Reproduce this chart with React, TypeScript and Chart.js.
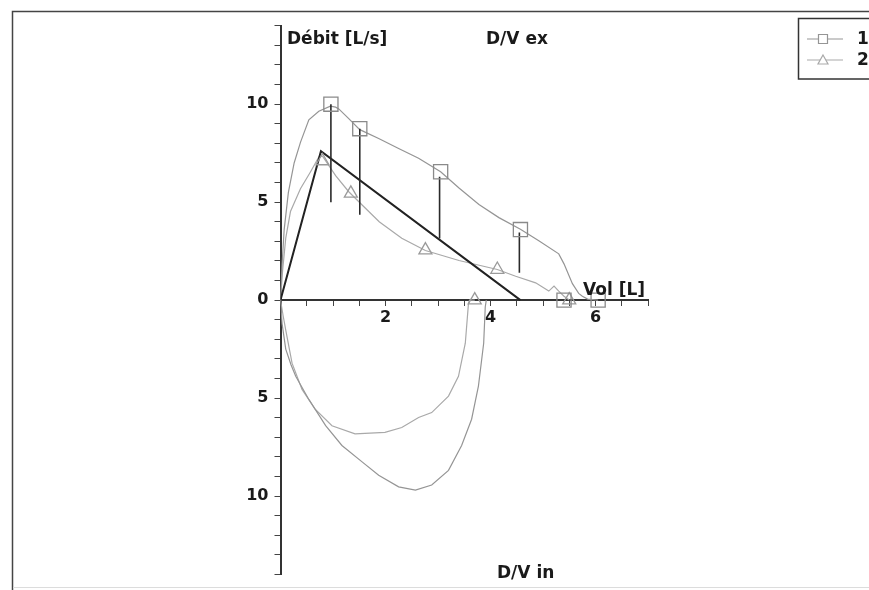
import React, { useEffect, useRef } from 'react';
import { Chart, registerables } from 'chart.js';

Chart.register(...registerables);

// ---- Data (volume in L, flow in L/s; inspiration as negative flow) ----
const exp1Vol = [0, 0.03, 0.07, 0.15, 0.26, 0.38, 0.54, 0.73, 0.95, 1.05, 1.11, 1.3, 1.51, 1.87, 2.25, 2.63, 3.05, 3.4, 3.78, 4.16, 4.57, 4.92, 5.3, 5.4, 5.56, 5.68, 5.75, 5.85, 6.05];
const exp1Flow = [0, 1.8, 3.6, 5.5, 7.0, 8.05, 9.2, 9.64, 9.9, 9.85, 9.76, 9.26, 8.7, 8.25, 7.74, 7.24, 6.55, 5.72, 4.88, 4.21, 3.62, 3.03, 2.36, 1.85, 0.84, 0.34, 0.2, 0.05, 0];

const exp2Vol = [0, 0.04, 0.1, 0.19, 0.38, 0.57, 0.73, 0.8, 1.05, 1.3, 1.56, 1.88, 2.31, 2.76, 3.4, 4.13, 4.48, 4.86, 5.11, 5.21, 5.3, 5.4, 5.5];
const exp2Flow = [0, 1.5, 3.16, 4.52, 5.68, 6.54, 7.3, 7.35, 6.35, 5.53, 4.84, 4.0, 3.16, 2.53, 2.02, 1.56, 1.22, 0.88, 0.46, 0.72, 0.46, 0.2, 0];

const insp1Vol = [0, 0.03, 0.1, 0.2, 0.29, 0.54, 0.86, 1.17, 1.56, 1.87, 2.25, 2.57, 2.88, 3.2, 3.45, 3.64, 3.77, 3.87, 3.9, 3.92];
const insp1Flow = [0, -1.2, -2.5, -3.3, -3.89, -5.07, -6.41, -7.42, -8.27, -8.94, -9.53, -9.7, -9.44, -8.69, -7.42, -6.08, -4.39, -2.2, -0.35, 0];

const insp2Vol = [0, 0.05, 0.1, 0.22, 0.41, 0.66, 0.98, 1.42, 1.99, 2.31, 2.63, 2.88, 3.2, 3.39, 3.52, 3.58, 3.6, 3.7];
const insp2Flow = [0, -0.8, -1.53, -3.22, -4.56, -5.57, -6.41, -6.83, -6.75, -6.5, -5.99, -5.74, -4.9, -3.89, -2.2, -0.18, 0, 0];

const refLineVol = [0, 0.77, 4.57];
const refLineFlow = [0, 7.6, 0];

const squareVol = [0.96, 1.51, 3.05, 4.57, 5.4, 6.05];
const squareFlow = [10, 8.75, 6.55, 3.6, 0, 0];

const triangleVol = [0.8, 1.34, 2.76, 4.13, 3.7, 5.5];
const triangleFlow = [7.1, 5.45, 2.55, 1.56, 0, 0];

const barVol = [0.96, 1.51, 3.03, 4.55];
const barTop = [10, 8.75, 6.3, 3.45];
const barBottom = [5.0, 4.35, 3.15, 1.4];

const xLabelValues = [2, 4, 6];
const legendLabels = ['1', '2'];

const FONT = '"DejaVu Sans", Verdana, sans-serif';
const GREY1 = '#959595';
const GREY2 = '#a9a9a9';

const pts = (xs: number[], ys: number[]) => xs.map((x, i) => ({ x, y: ys[i] }));

const decorPlugin = {
  id: 'decor',
  beforeDraw(chart: any) {
    const ctx = chart.ctx;
    ctx.save();
    ctx.fillStyle = '#ffffff';
    ctx.fillRect(0, 0, chart.width, chart.height);
    ctx.strokeStyle = '#444';
    ctx.lineWidth = 1.5;
    ctx.beginPath();
    ctx.moveTo(12.5, 590);
    ctx.lineTo(12.5, 11.5);
    ctx.lineTo(869, 11.5);
    ctx.stroke();
    ctx.strokeStyle = '#dcdcdc';
    ctx.lineWidth = 1;
    ctx.beginPath();
    ctx.moveTo(13, 587.5);
    ctx.lineTo(869, 587.5);
    ctx.stroke();
    ctx.restore();
  },
  afterDraw(chart: any) {
    const ctx = chart.ctx;
    ctx.save();
    ctx.fillStyle = '#1a1a1a';
    ctx.font = `bold 17px ${FONT}`;
    ctx.textBaseline = 'alphabetic';
    ctx.textAlign = 'left';
    ctx.fillText('Débit [L/s]', 287, 44);
    ctx.fillText('D/V ex', 486, 44);
    ctx.fillText('Vol [L]', 583, 295);
    ctx.fillText('D/V in', 497, 578);

    // legend
    ctx.strokeStyle = '#333';
    ctx.lineWidth = 1.5;
    ctx.strokeRect(798.5, 18.5, 120, 60.5);
    const rows = [39, 60];
    rows.forEach((y, i) => {
      ctx.strokeStyle = i === 0 ? GREY1 : GREY2;
      ctx.lineWidth = 1.2;
      ctx.beginPath();
      ctx.moveTo(807, y);
      ctx.lineTo(843, y);
      ctx.stroke();
      ctx.fillStyle = '#fff';
      ctx.beginPath();
      if (i === 0) {
        ctx.rect(818.5, y - 4.5, 9, 9);
      } else {
        ctx.moveTo(823, y - 5);
        ctx.lineTo(828, y + 4);
        ctx.lineTo(818, y + 4);
        ctx.closePath();
      }
      ctx.fill();
      ctx.stroke();
      ctx.fillStyle = '#1a1a1a';
      ctx.textBaseline = 'middle';
      ctx.fillText(legendLabels[i], 857, y + 1);
    });
    ctx.restore();
  },
};

export default function App() {
  const ref = useRef<HTMLCanvasElement | null>(null);

  useEffect(() => {
    if (!ref.current) return;
    const barSets = barVol.map((v, i) => ({
      label: 'bar' + i,
      data: [{ x: v, y: barTop[i] }, { x: v, y: barBottom[i] }],
      showLine: true,
      borderColor: '#2a2a2a',
      borderWidth: 1.6,
      pointRadius: 0,
      order: 2,
    }));
    const chart = new Chart(ref.current, {
      type: 'scatter',
      data: {
        datasets: [
          {
            label: 'squares',
            data: pts(squareVol, squareFlow),
            showLine: false,
            pointStyle: 'rect',
            pointRadius: 10,
            borderColor: '#8a8a8a',
            borderWidth: 1.3,
            backgroundColor: 'rgba(0,0,0,0)',
            order: 1,
            clip: false,
          },
          {
            label: 'triangles',
            data: pts(triangleVol, triangleFlow),
            showLine: false,
            pointStyle: 'triangle',
            pointRadius: 7.5,
            borderColor: '#9a9a9a',
            borderWidth: 1.3,
            backgroundColor: 'rgba(0,0,0,0)',
            order: 1,
            clip: false,
          },
          ...barSets,
          {
            label: 'ref',
            data: pts(refLineVol, refLineFlow),
            showLine: true,
            borderColor: '#222',
            borderWidth: 2,
            pointRadius: 0,
            order: 3,
          },
          {
            label: '1 ex',
            data: pts(exp1Vol, exp1Flow),
            showLine: true,
            borderColor: GREY1,
            borderWidth: 1.2,
            pointRadius: 0,
            order: 4,
          },
          {
            label: '2 ex',
            data: pts(exp2Vol, exp2Flow),
            showLine: true,
            borderColor: GREY2,
            borderWidth: 1.2,
            pointRadius: 0,
            order: 4,
          },
          {
            label: '1 in',
            data: pts(insp1Vol, insp1Flow),
            showLine: true,
            borderColor: GREY1,
            borderWidth: 1.2,
            pointRadius: 0,
            order: 4,
          },
          {
            label: '2 in',
            data: pts(insp2Vol, insp2Flow),
            showLine: true,
            borderColor: GREY2,
            borderWidth: 1.2,
            pointRadius: 0,
            order: 4,
          },
        ],
      },
      options: {
        animation: false,
        responsive: false,
        devicePixelRatio: 1,
        layout: { padding: { left: 220.5, right: 221, top: 25.8, bottom: 9.8 } },
        plugins: { legend: { display: false }, tooltip: { enabled: false }, title: { display: false } },
        scales: {
          x: {
            type: 'linear',
            position: { y: 0 },
            min: 0,
            max: 7,
            afterFit: (s: any) => { s.height = 0; },
            ticks: {
              stepSize: 0.5,
              autoSkip: false,
              maxRotation: 0,
              padding: 3,
              color: '#1a1a1a',
              font: { family: FONT, size: 16, weight: 'bold' },
              callback: (v: any) => (xLabelValues.includes(Number(v)) ? String(v) : ''),
            },
            grid: { drawOnChartArea: false, drawTicks: true, tickLength: 5, color: '#444', lineWidth: 1 },
            border: { display: true, color: '#333', width: 2 },
          },
          y: {
            type: 'linear',
            position: 'left',
            min: -14,
            max: 14,
            afterFit: (s: any) => { s.width = 60; },
            ticks: {
              stepSize: 1,
              autoSkip: false,
              padding: 6,
              color: '#1a1a1a',
              font: { family: FONT, size: 16, weight: 'bold' },
              callback: (v: any) => (Number(v) % 5 === 0 ? String(Math.abs(Number(v))) : ''),
            },
            grid: { drawOnChartArea: false, drawTicks: true, tickLength: 6, color: '#444', lineWidth: 1 },
            border: { display: true, color: '#333', width: 2 },
          },
        },
      } as any,
      plugins: [decorPlugin],
    });
    return () => chart.destroy();
  }, []);

  return (
    <div style={{ position: 'fixed', left: 0, top: 0, width: 869, height: 590 }}>
      <canvas ref={ref} width={869} height={590} style={{ width: 869, height: 590, display: 'block' }} />
    </div>
  );
}
